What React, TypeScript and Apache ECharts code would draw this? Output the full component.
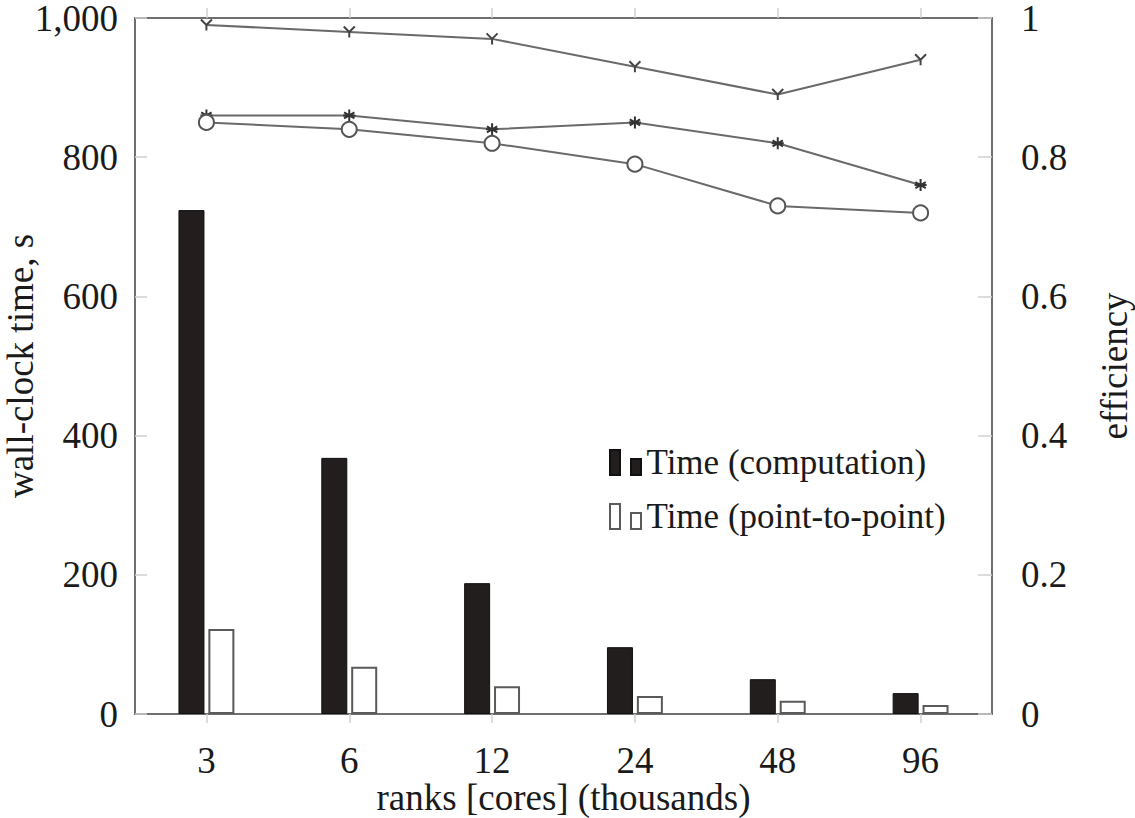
import React, { useEffect, useRef } from "react";
import * as echarts from "echarts";

const categories = ["3", "6", "12", "24", "48", "96"];
const computationTime = [724, 368, 188, 96, 50, 30];
const pointToPointTime = [122, 68, 40, 26, 19, 13];
const efficiencyY = [0.99, 0.98, 0.97, 0.93, 0.89, 0.94];
const efficiencyStar = [0.86, 0.86, 0.84, 0.85, 0.82, 0.76];
const efficiencyCircle = [0.85, 0.84, 0.82, 0.79, 0.73, 0.72];
const legendNames = ["Time (computation)", "Time (point-to-point)"];

const FONT = "Liberation Serif";
const AXIS_COLOR = "#6f6f6f";
const TICK_COLOR = "#d0d0d0";
const LINE_COLOR = "#6a6a6a";

const Y_SYMBOL = "path://M1,1L0,0M1,1L2,0M1,1L1,2";
const STAR_SYMBOL =
  "path://M1,0L1,2M0.134,0.5L1.866,1.5M0.134,1.5L1.866,0.5M0,1L2,1";
const LEGEND_ICON = "path://M0,0H10V25H0Z M21,9H31V25H21Z";

export default function App() {
  const ref = useRef<HTMLDivElement>(null);

  useEffect(() => {
    if (!ref.current) return;
    const chart = echarts.init(ref.current, undefined, { renderer: "svg" });
    const labelStyle = { fontFamily: FONT, fontSize: 37, color: "#1a1a1a", lineHeight: 34 };
    const nameStyle = { fontFamily: FONT, fontSize: 37, color: "#1a1a1a", lineHeight: 32 };

    chart.setOption({
      animation: false,
      backgroundColor: "#ffffff",
      textStyle: { fontFamily: FONT },
      grid: {
        left: 135,
        top: 18,
        right: 143,
        bottom: 104,
        containLabel: false,
        outerBoundsMode: "none",
      },
      legend: {
        data: legendNames,
        orient: "vertical",
        left: 604,
        top: 440,
        itemWidth: 32,
        itemHeight: 25,
        itemGap: 19,
        icon: LEGEND_ICON,
        textStyle: { fontFamily: FONT, fontSize: 35, color: "#1a1a1a", padding: [0, 0, 0, 0] },
      },
      xAxis: [
        {
          type: "category",
          data: categories,
          position: "bottom",
          name: "ranks [cores] (thousands)",
          nameLocation: "middle",
          nameGap: 67,
          nameMoveOverlap: false,
          nameTextStyle: nameStyle,
          axisLine: { show: true, lineStyle: { color: AXIS_COLOR, width: 2 } },
          axisTick: { show: true, alignWithLabel: true, inside: false, length: 9, lineStyle: { color: TICK_COLOR, width: 1.5 } },
          axisLabel: { ...labelStyle, lineHeight: 30, margin: 31 },
          splitLine: { show: false },
        },
        {
          type: "category",
          data: categories,
          position: "top",
          axisLine: { show: true, onZero: false, lineStyle: { color: AXIS_COLOR, width: 2 } },
          axisTick: { show: true, alignWithLabel: true, inside: false, length: 10, lineStyle: { color: TICK_COLOR, width: 1.5 } },
          axisLabel: { show: false },
          splitLine: { show: false },
        },
      ],
      yAxis: [
        {
          type: "value",
          min: 0,
          max: 1000,
          interval: 200,
          position: "left",
          name: "wall-clock time, s",
          nameLocation: "middle",
          nameGap: 99,
          nameMoveOverlap: false,
          nameTextStyle: nameStyle,
          axisLine: { show: true, lineStyle: { color: AXIS_COLOR, width: 2 } },
          axisTick: { show: true, inside: true, length: 12, lineStyle: { color: TICK_COLOR, width: 1.5 } },
          axisLabel: {
            ...labelStyle,
            margin: 17,
            formatter: (v: number) => v.toLocaleString("en-US"),
          },
          splitLine: { show: false },
        },
        {
          type: "value",
          min: 0,
          max: 1,
          interval: 0.2,
          position: "right",
          name: "efficiency",
          nameLocation: "middle",
          nameGap: 106,
          nameMoveOverlap: false,
          nameTextStyle: nameStyle,
          axisLine: { show: true, lineStyle: { color: AXIS_COLOR, width: 2 } },
          axisTick: { show: true, inside: true, length: 14, lineStyle: { color: TICK_COLOR, width: 1.5 } },
          axisLabel: { ...labelStyle, margin: 29 },
          splitLine: { show: false },
        },
      ],
      series: [
        {
          name: legendNames[0],
          type: "bar",
          data: computationTime,
          barWidth: 26,
          barGap: "15%",
          itemStyle: { color: "#221e1e", borderColor: "#111", borderWidth: 1 },
          z: 2,
        },
        {
          name: legendNames[1],
          type: "bar",
          data: pointToPointTime,
          barWidth: 26,
          barGap: "15%",
          itemStyle: { color: "#ffffff", borderColor: "#5a5a5a", borderWidth: 2 },
          z: 2,
        },
        {
          name: "efficiency (Y)",
          type: "line",
          yAxisIndex: 1,
          data: efficiencyY,
          symbol: Y_SYMBOL,
          symbolSize: 11,
          symbolKeepAspect: true,
          showAllSymbol: true,
          lineStyle: { color: LINE_COLOR, width: 2 },
          itemStyle: { color: "rgba(0,0,0,0)", borderColor: "#444", borderWidth: 2 },
          z: 5,
        },
        {
          name: "efficiency (star)",
          type: "line",
          yAxisIndex: 1,
          data: efficiencyStar,
          symbol: STAR_SYMBOL,
          symbolSize: 12,
          symbolKeepAspect: true,
          showAllSymbol: true,
          lineStyle: { color: LINE_COLOR, width: 2 },
          itemStyle: { color: "rgba(0,0,0,0)", borderColor: "#333", borderWidth: 2 },
          z: 5,
        },
        {
          name: "efficiency (circle)",
          type: "line",
          yAxisIndex: 1,
          data: efficiencyCircle,
          symbol: "circle",
          symbolSize: 15,
          showAllSymbol: true,
          lineStyle: { color: LINE_COLOR, width: 2 },
          itemStyle: { color: "#ffffff", borderColor: "#555", borderWidth: 2 },
          z: 5,
        },
      ],
    });

    return () => chart.dispose();
  }, []);

  return (
    <div
      ref={ref}
      style={{ position: "fixed", left: 0, top: 0, width: 1135, height: 818, background: "#fff" }}
    />
  );
}
